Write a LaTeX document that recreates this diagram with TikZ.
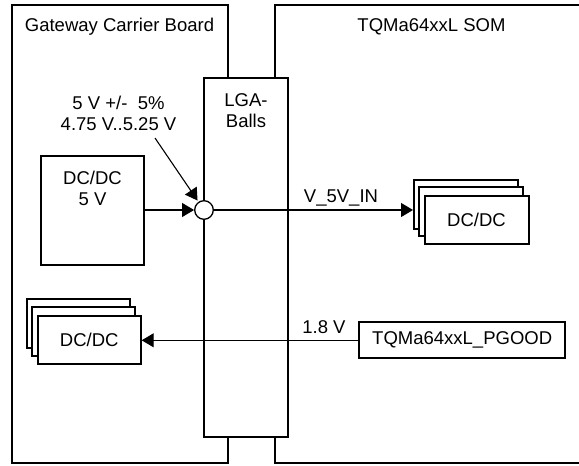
\documentclass[tikz,border=0pt]{standalone}
\usepackage{fontspec}
\setmainfont{Liberation Sans}
\usetikzlibrary{arrows.meta}
\begin{document}
\begin{tikzpicture}[x=1pt,y=-1pt,
  boardline/.style={line width=2pt,line join=miter},
  box/.style={draw,line width=2pt,fill=white,inner sep=0pt},
  txt/.style={inner sep=0pt,align=center,font=\fontsize{18.5}{21}\selectfont},
  conn/.style={line width=1.1pt,-{Triangle[length=12pt,width=14pt]}},
]
\useasboundingbox (0,0) rectangle (579,466);
% boards
\node[box,minimum width=216pt,minimum height=458pt] (carrier) at (120,234) {};
\node[txt] (carrierlbl) at (119.5,27) {Gateway Carrier Board};
\coordinate (somtl) at (600,5);
\coordinate (sombl) at (275,463);
\draw[boardline] (somtl) -| (sombl) -- ++(330,0);
\node[txt] (somlbl) at (431.5,27) {TQMa64xxL SOM};
% LGA balls
\node[box,minimum width=84pt,minimum height=359pt] (lga) at (246,257.5) {};
\node[txt] (lgalbl) at (246,111) {LGA-\\Balls};
% DC/DC 5V
\node[box,minimum width=103pt,minimum height=109pt] (dc5) at (92.5,210) {};
\node[txt] (dc5lbl) at (92.5,188) {DC/DC\\5 V};
% right stack
\node[box,minimum width=104pt,minimum height=49pt] (rs3) at (466,204.5) {};
\node[box,minimum width=104pt,minimum height=49pt] (rs2) at (471,211.5) {};
\node[box,minimum width=104pt,minimum height=48pt,txt] (rs1) at (476.5,220) {DC/DC};
% left stack
\node[box,minimum width=103pt,minimum height=49pt] (ls3) at (78,323.5) {};
\node[box,minimum width=103pt,minimum height=49pt] (ls2) at (83.3,331) {};
\node[box,minimum width=103pt,minimum height=48pt,txt] (ls1) at (89.2,340) {DC/DC};
% PGOOD
\node[box,minimum width=206pt,minimum height=36pt,txt] (pg) at (462.2,340.3) {TQMa64xxL\_PGOOD};
% ball
\node[draw,circle,line width=1.3pt,fill=white,minimum size=18.6pt,inner sep=0pt] (ball) at (204,210) {};
% labels
\node[txt] (tol) at (118.5,113) {5 V +/-\ \ 5\%\\4.75 V..5.25 V};
\coordinate (tolend) at (155,138);
\node[txt] (vin) at (341,198) {V\_5V\_IN};
\node[txt] (v18) at (324,327.5) {1.8 V};
% connectors
\draw[conn] (dc5.east) -- (ball.west);
\draw[conn,shorten >=1.5pt] (tolend) -- (ball);
\draw[conn] (ball.east) -- (ball.east -| rs3.west);
\draw[conn] (pg.west) -- (pg.west -| ls1.east);
\end{tikzpicture}
\end{document}
